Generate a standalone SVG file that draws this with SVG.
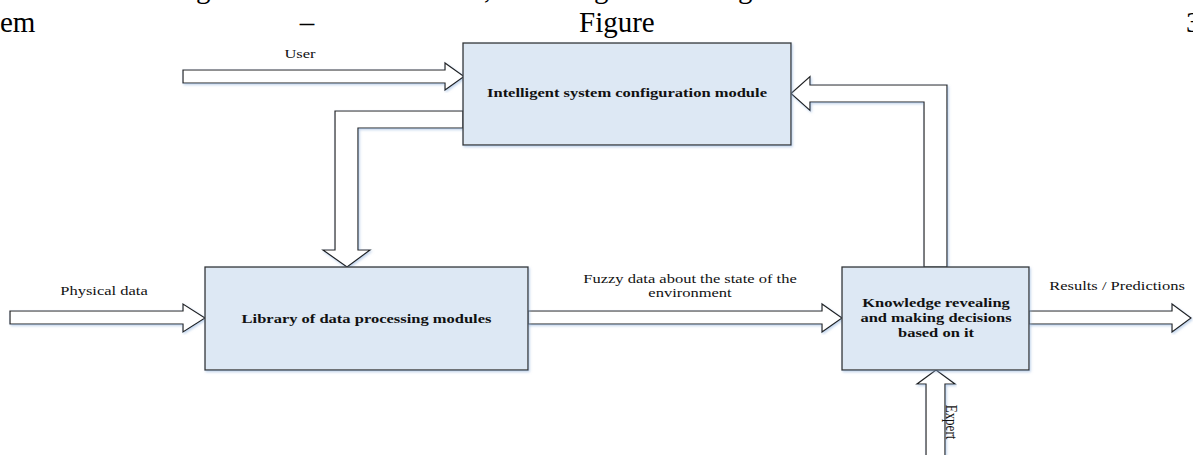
<svg xmlns="http://www.w3.org/2000/svg" width="1193" height="455" viewBox="0 0 1193 455">
  <defs>
    <filter id="shade" x="-5%" y="-5%" width="110%" height="115%">
      <feDropShadow dx="1.2" dy="1.5" stdDeviation="0.9" flood-color="#8fb0dc" flood-opacity="0.55"/>
    </filter>
  </defs>
  <style>
    .page { font-family: "Liberation Serif", "Times New Roman", serif; font-size: 29px; fill: #000; }
    .box { fill: #dde8f4; stroke: #333; stroke-width: 1.3; filter: url(#shade); }
    .arrow { fill: #fff; stroke: #222; stroke-width: 1.2; stroke-linejoin: miter; filter: url(#shade); }
    .lbl { font-family: "Liberation Serif", "Times New Roman", serif; font-size: 13px; fill: #111; text-anchor: middle; }
    .title { font-weight: bold; }
  </style>

  <!-- running page text around the figure -->
  <g id="page-text" class="page">
    <text x="196" y="-2">g</text>
    <text x="484" y="-2">,</text>
    <text x="594" y="-2">g</text>
    <text x="738" y="-2">g</text>
    <text x="0" y="32">em</text>
    <text x="307" y="32" text-anchor="middle">–</text>
    <text x="579" y="32">Figure</text>
    <text x="1186" y="32">3</text>
  </g>

  <!-- block arrows -->
  <g id="connectors">
    <polygon id="arrow-user" class="arrow" points="183,70 445,70 445,63 464,76.5 445,90 445,83 183,83"/>
    <polygon id="arrow-config-library" class="arrow" points="463,111 335,111 335,250 323,250 347,267 370,250 358,250 358,128 463,128"/>
    <polygon id="arrow-knowledge-config" class="arrow" points="947,267 947,85 810,85 810,76.5 791,93.5 810,110.5 810,102 924,102 924,267"/>
    <polygon id="arrow-physical" class="arrow" points="10,311 183,311 183,304 205,318 183,332 183,324 10,324"/>
    <polygon id="arrow-fuzzy" class="arrow" points="528,311 822,311 822,304 842,318 822,332 822,324 528,324"/>
    <polygon id="arrow-results" class="arrow" points="1029,311 1172,311 1172,304 1191,318 1172,332 1172,324 1029,324"/>
    <polygon id="arrow-expert" class="arrow" points="926,460 926,384 917,384 936,370 955,384 945,384 945,460"/>

    <text class="lbl" transform="translate(300,58) scale(1.27,1)">User</text>
    <text class="lbl" transform="translate(104,295) scale(1.27,1)">Physical data</text>
    <text class="lbl" transform="translate(690,283) scale(1.27,1)">Fuzzy data about the state of the</text>
    <text class="lbl" transform="translate(690,297) scale(1.27,1)">environment</text>
    <text class="lbl" transform="translate(1117,290) scale(1.27,1)">Results / Predictions</text>
    <text class="lbl" transform="translate(951,422) scale(1.27,1) rotate(90)" y="4">Expert</text>
  </g>

  <g id="node-config">
    <rect class="box" x="463" y="43" width="328" height="102"/>
    <text class="lbl title" transform="translate(627,97) scale(1.27,1)">Intelligent system configuration module</text>
  </g>

  <g id="node-library">
    <rect class="box" x="205" y="267" width="323" height="103"/>
    <text class="lbl title" transform="translate(366.5,323) scale(1.27,1)">Library of data processing modules</text>
  </g>

  <g id="node-knowledge">
    <rect class="box" x="842" y="267" width="187" height="103"/>
    <text class="lbl title" transform="translate(936,307) scale(1.27,1)">Knowledge revealing</text>
    <text class="lbl title" transform="translate(936,322) scale(1.27,1)">and making decisions</text>
    <text class="lbl title" transform="translate(936,337) scale(1.27,1)">based on it</text>
  </g>
</svg>
